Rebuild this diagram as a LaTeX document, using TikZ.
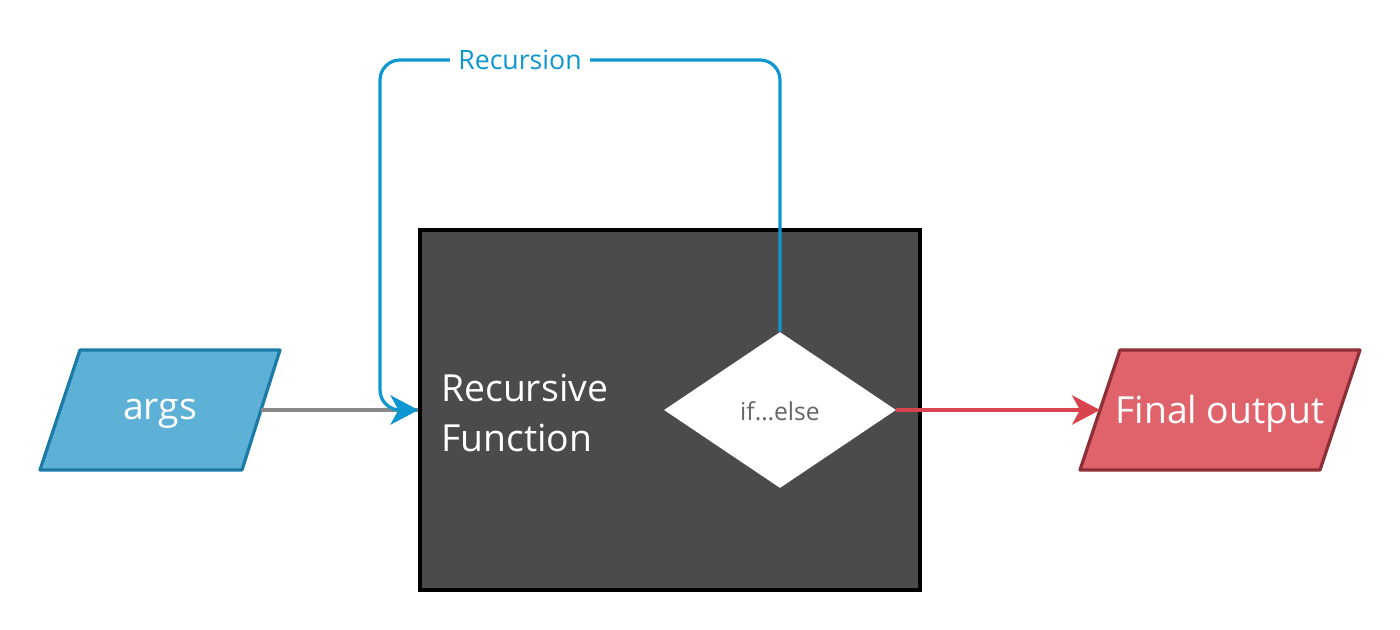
\documentclass[tikz,border=0pt]{standalone}
\usepackage{fontspec}
\setmainfont{Open Sans}
\usetikzlibrary{shapes.geometric,arrows.meta}
\definecolor{argsfill}{HTML}{5EB1D6}
\definecolor{argsdraw}{HTML}{1B7AA6}
\definecolor{boxfill}{HTML}{4B4B4B}
\definecolor{recblue}{HTML}{0E96D1}
\definecolor{outred}{HTML}{D9434E}
\definecolor{outfill}{HTML}{E0636C}
\definecolor{outdraw}{HTML}{8E2E36}
\definecolor{greyline}{HTML}{888888}
\definecolor{condtext}{HTML}{666666}
\tikzset{
  bigtext/.style={text=white,font=\fontsize{28}{37.5}\selectfont,inner sep=0pt},
  conn/.style={line width=2.4pt},
  tip/.style={-{Stealth[length=21pt,width=22pt,inset=6pt]}},
}
\begin{document}
\begin{tikzpicture}[x=0.75pt,y=-0.75pt]
\useasboundingbox[fill=white] (0,0) rectangle (1400,630);
% main box
\node[draw=black,fill=boxfill,line width=2.4pt,minimum width=375pt,minimum height=270pt,inner sep=0pt] (box) at (670,410) {};
\node[bigtext,align=left,anchor=west] (fname) at (441,413) {Recursive\\Function};
% decision
\node[diamond,fill=white,minimum width=174pt,minimum height=117pt,inner sep=0pt,aspect=1.5] (cond) at (780,410) {};
\node[text=condtext,font=\fontsize{18.5}{20}\selectfont,inner sep=0pt] (condtxt) at (780,411) {if…else};
% args
\draw[fill=argsfill,draw=argsdraw,line width=2.4pt,line join=round] (80,350) -- (280,350) -- (242,470) -- (40,470) -- cycle;
\node[bigtext] (args) at (160,414) {args};
\coordinate (argsR) at (261,410);
% final output
\draw[fill=outfill,draw=outdraw,line width=2.4pt,line join=round] (1120,350) -- (1360,350) -- (1320,470) -- (1080,470) -- cycle;
\node[bigtext] (out) at (1220,414) {Final output};
\coordinate (outL) at (1100,410);
% connectors
\draw[conn,greyline] (argsR) -- (box.west);
\draw[conn,recblue,tip,rounded corners=15pt] (cond.north) |- (380,60) |- (box.west);
\node[fill=white,text=recblue,font=\fontsize{20}{24}\selectfont,inner sep=6pt] (reclabel) at (520,60) {Recursion};
\draw[conn,outred,tip] (cond.east) -- (outL);
\end{tikzpicture}
\end{document}
